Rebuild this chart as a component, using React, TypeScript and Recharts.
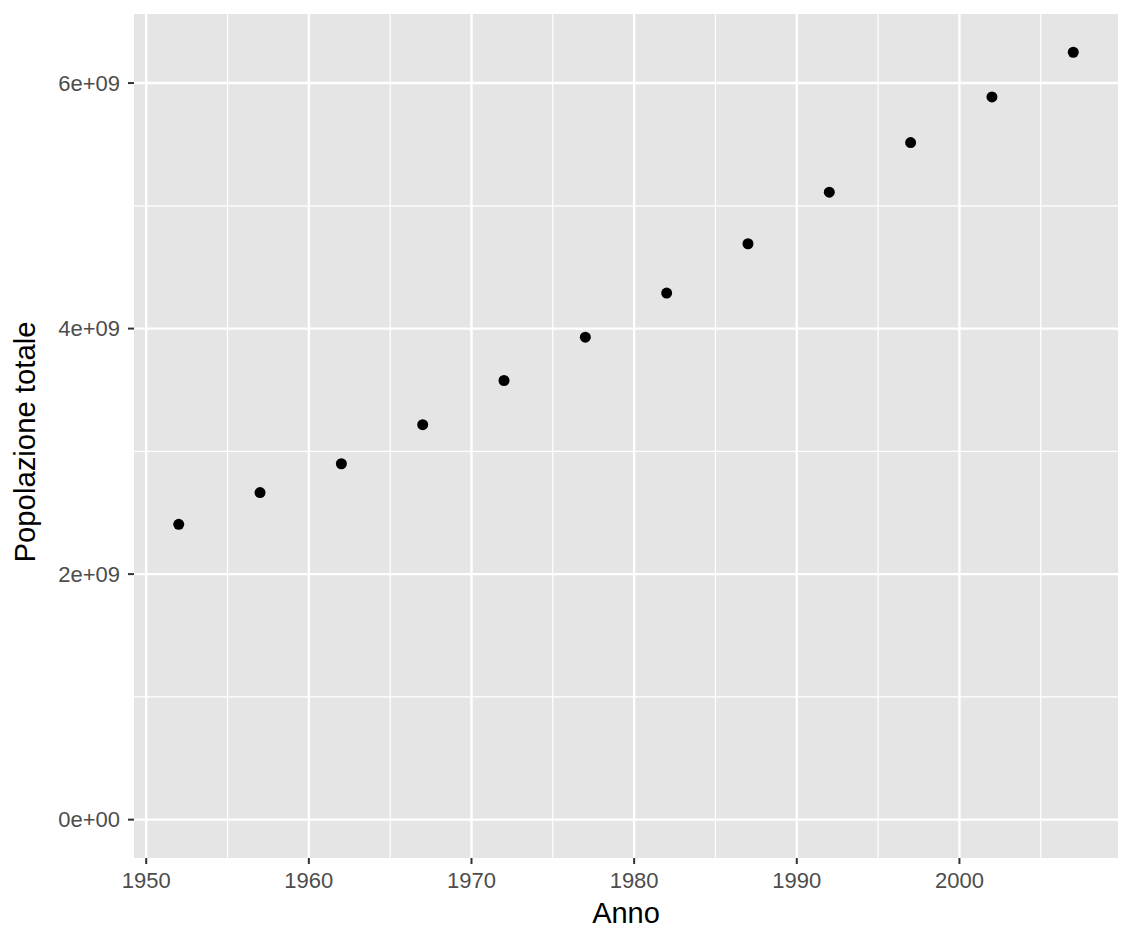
import React from 'react';
import { ScatterChart, Scatter, XAxis, YAxis, CartesianGrid, ReferenceLine } from 'recharts';

const years = [1952, 1957, 1962, 1967, 1972, 1977, 1982, 1987, 1992, 1997, 2002, 2007];
const population = [
  2.406e9, 2.664e9, 2.899e9, 3.217e9, 3.577e9, 3.930e9,
  4.289e9, 4.691e9, 5.111e9, 5.515e9, 5.887e9, 6.251e9,
];
const xTicks = [1950, 1960, 1970, 1980, 1990, 2000];
const xMinor = [1955, 1965, 1975, 1985, 1995, 2005];
const yTicks = [0, 2e9, 4e9, 6e9];
const yMinor = [1e9, 3e9, 5e9];
const xDomain = [1949.25, 2009.75];
const yDomain = [-0.3125e9, 6.5625e9];

const data = years.map((y, i) => ({ anno: y, pop: population[i] }));

const FONT = '"Liberation Sans", Arial, Helvetica, sans-serif';

const fmtSci = (v: number) => {
  if (v === 0) return '0e+00';
  const exp = Math.floor(Math.log10(Math.abs(v)));
  const mant = Math.round(v / Math.pow(10, exp));
  const e = String(Math.abs(exp)).padStart(2, '0');
  return `${mant}e${exp < 0 ? '-' : '+'}${e}`;
};

const Dot = (props: any) => <circle cx={props.cx} cy={props.cy} r={5.5} fill="#000" />;

export default function App() {
  return (
    <div style={{ position: 'absolute', left: 0, top: 0 }}>
      <ScatterChart width={1133} height={944} margin={{ top: 14, right: 15, bottom: 0, left: 0 }}>
        <CartesianGrid fill="#E5E5E5" horizontal={false} vertical={false} stroke="none" />
        {xMinor.map((x) => (
          <ReferenceLine key={'xm' + x} x={x} stroke="#FFFFFF" strokeWidth={1.2} ifOverflow="hidden" />
        ))}
        {yMinor.map((y) => (
          <ReferenceLine key={'ym' + y} y={y} stroke="#FFFFFF" strokeWidth={1.2} ifOverflow="hidden" />
        ))}
        {xTicks.map((x) => (
          <ReferenceLine key={'xM' + x} x={x} stroke="#FFFFFF" strokeWidth={2.4} ifOverflow="hidden" />
        ))}
        {yTicks.map((y) => (
          <ReferenceLine key={'yM' + y} y={y} stroke="#FFFFFF" strokeWidth={2.4} ifOverflow="hidden" />
        ))}
        <XAxis
          type="number"
          dataKey="anno"
          domain={xDomain}
          ticks={xTicks}
          allowDataOverflow
          height={86}
          axisLine={false}
          tickLine={{ stroke: '#333333', strokeWidth: 2 }}
          tickSize={6}
          tickMargin={8}
          tick={{ fill: '#4D4D4D', fontSize: 22, fontFamily: FONT }}
          label={{
            content: (p: any) => {
              const vb = p.viewBox;
              return (
                <text x={vb.x + vb.width / 2} y={923} textAnchor="middle" fontSize={29} fontFamily={FONT} fill="#000">
                  Anno
                </text>
              );
            },
          }}
        />
        <YAxis
          type="number"
          dataKey="pop"
          domain={yDomain}
          ticks={yTicks}
          allowDataOverflow
          width={134}
          axisLine={false}
          tickLine={{ stroke: '#333333', strokeWidth: 2 }}
          tickSize={6}
          tickMargin={8}
          tickFormatter={fmtSci}
          tick={{ fill: '#4D4D4D', fontSize: 22, fontFamily: FONT }}
          label={{
            content: (p: any) => {
              const vb = p.viewBox;
              const cy = vb.y + vb.height / 2 + 6;
              return (
                <text x={35} y={cy} transform={`rotate(-90, 35, ${cy})`} textAnchor="middle" fontSize={29.3} fontFamily={FONT} fill="#000">
                  Popolazione totale
                </text>
              );
            },
          }}
        />
        <Scatter data={data} shape={Dot} isAnimationActive={false} />
      </ScatterChart>
    </div>
  );
}
